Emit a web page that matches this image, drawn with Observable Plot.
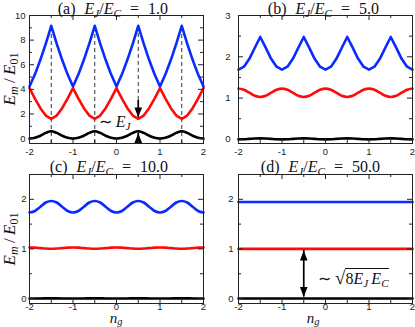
<!DOCTYPE html>
<html><head><meta charset="utf-8">
<script src="https://cdn.jsdelivr.net/npm/d3@7"></script>
<script src="https://cdn.jsdelivr.net/npm/@observablehq/plot@0.6"></script>
<style>
body{margin:0;background:#fff;}
#root{position:relative;width:415px;height:327px;overflow:hidden;font-family:'Liberation Serif','Times New Roman',serif;color:#111;}
sub{font-size:70%;vertical-align:baseline;position:relative;top:0.28em;line-height:0;}
.ngl sub{top:0.12em;}
.sp{display:inline-block;width:9px;}
.eq{margin:0 9px;}
.rad{font-size:118%;}
</style></head><body><div id="root"></div>
<script>
// ---- data ----
const ng = [-2,-1.875,-1.75,-1.625,-1.5,-1.375,-1.25,-1.125,-1,-0.875,-0.75,-0.625,-0.5,-0.375,-0.25,-0.125,0,0.125,0.25,0.375,0.5,0.625,0.75,0.875,1,1.125,1.25,1.375,1.5,1.625,1.75,1.875,2];
// (a) EJ/EC = 1.0
const a_m0 = [0,0.06,0.23,0.46,0.60,0.46,0.23,0.06, 0,0.06,0.23,0.46,0.60,0.46,0.23,0.06, 0,0.06,0.23,0.46,0.60,0.46,0.23,0.06, 0,0.06,0.23,0.46,0.60,0.46,0.23,0.06, 0];
const a_m1 = [4.10,3.25,2.47,1.87,1.60,1.87,2.47,3.25, 4.10,3.25,2.47,1.87,1.60,1.87,2.47,3.25, 4.10,3.25,2.47,1.87,1.60,1.87,2.47,3.25, 4.10,3.25,2.47,1.87,1.60,1.87,2.47,3.25, 4.10];
const a_m2 = [4.23,5.22,6.40,7.71,9.16,7.71,6.40,5.22, 4.23,5.22,6.40,7.71,9.16,7.71,6.40,5.22, 4.23,5.22,6.40,7.71,9.16,7.71,6.40,5.22, 4.23,5.22,6.40,7.71,9.16,7.71,6.40,5.22, 4.23];
// (b) EJ/EC = 5.0
const b_m0 = [0,0.004,0.012,0.02,0.024,0.02,0.012,0.004, 0,0.004,0.012,0.02,0.024,0.02,0.012,0.004, 0,0.004,0.012,0.02,0.024,0.02,0.012,0.004, 0,0.004,0.012,0.02,0.024,0.02,0.012,0.004, 0];
const b_m1 = [1.23,1.20,1.13,1.055,1.025,1.055,1.13,1.20, 1.23,1.20,1.13,1.055,1.025,1.055,1.13,1.20, 1.23,1.20,1.13,1.055,1.025,1.055,1.13,1.20, 1.23,1.20,1.13,1.055,1.025,1.055,1.13,1.20, 1.23];
const b_m2 = [1.69,1.76,1.95,2.22,2.48,2.22,1.95,1.76, 1.69,1.76,1.95,2.22,2.48,2.22,1.95,1.76, 1.69,1.76,1.95,2.22,2.48,2.22,1.95,1.76, 1.69,1.76,1.95,2.22,2.48,2.22,1.95,1.76, 1.69];
// (c) EJ/EC = 10.0
const c_m0 = [0,0.001,0.002,0.003,0.003,0.003,0.002,0.001, 0,0.001,0.002,0.003,0.003,0.003,0.002,0.001, 0,0.001,0.002,0.003,0.003,0.003,0.002,0.001, 0,0.001,0.002,0.003,0.003,0.003,0.002,0.001, 0];
const c_m1 = [1.03,1.026,1.017,1.008,1.004,1.008,1.017,1.026, 1.03,1.026,1.017,1.008,1.004,1.008,1.017,1.026, 1.03,1.026,1.017,1.008,1.004,1.008,1.017,1.026, 1.03,1.026,1.017,1.008,1.004,1.008,1.017,1.026, 1.03];
const c_m2 = [1.735,1.765,1.85,1.935,1.965,1.935,1.85,1.765, 1.735,1.765,1.85,1.935,1.965,1.935,1.85,1.765, 1.735,1.765,1.85,1.935,1.965,1.935,1.85,1.765, 1.735,1.765,1.85,1.935,1.965,1.935,1.85,1.765, 1.735];
// (d) EJ/EC = 50.0
const ngD = [-2, 2];
const d_m0 = [0, 0];
const d_m1 = [1.0, 1.0];
const d_m2 = [1.947, 1.947];

const panelTags = ["(a)", "(b)", "(c)", "(d)"];
const ratios = ["1.0", "5.0", "10.0", "50.0"];
const xMajor = [-2, -1, 0, 1, 2];
const xMinor = [-1.5, -0.5, 0.5, 1.5];
const yMajorA = [0, 2, 4, 6, 8, 10], yMinorA = [1, 3, 5, 7, 9];
const yMajorB = [0, 1, 2, 3], yMinorB = [0.5, 1.5, 2.5];
const yMajorCD = [0, 1, 2], yMinorCD = [0.5, 1.5];

// annotations
const dashA = [{x:-1.5,y1:-0.4,y2:9.16},{x:-0.5,y1:-0.4,y2:9.16},{x:0.5,y1:3.1,y2:9.16},{x:1.5,y1:-0.4,y2:9.16}];
const arrowsA = [{x:0.5,y1:3.1,y2:1.72,dir:"down"},{x:0.5,y1:-0.4,y2:0.46,dir:"up"}];
const arrowD = [{x:-0.5,y1:0.03,y2:0.97}];
const labelEJ = {x:-0.38, y:0.82};
const labelSqrt = {x:-0.16, y:0.32};

const BLUE = "#0a2bff", RED = "#ff0a0a", BLACK = "#000";
const root = document.getElementById("root");
const F = "'Liberation Serif','Times New Roman',serif";

const headDown = {draw(ctx){ ctx.moveTo(0,0); ctx.lineTo(-3.8,-10); ctx.lineTo(3.8,-10); ctx.closePath(); }};

function panel(o) {
  const iw = o.width - o.mL - o.mR, ih = o.height - o.mT - o.mB;
  const L = 5, S = 3;
  const tk = {stroke: "#222", strokeWidth: 1};
  const marks = [];
  (o.under || []).forEach(m => marks.push(m));
  o.series.forEach(s => marks.push(Plot.line(s.y.map((v, i) => ({x: s.x[i], y: v})), {x: "x", y: "y", stroke: s.color, strokeWidth: 2.6, curve: s.curve || "linear"})));
  (o.over || []).forEach(m => marks.push(m));
  marks.push(
    Plot.tickX(xMajor, {x: d => d, insetTop: ih - L, ...tk}),
    Plot.tickX(xMajor, {x: d => d, insetBottom: ih - L, ...tk}),
    Plot.tickX(xMinor, {x: d => d, insetTop: ih - S, ...tk}),
    Plot.tickX(xMinor, {x: d => d, insetBottom: ih - S, ...tk}),
    Plot.tickY(o.yMajor, {y: d => d, insetRight: iw - L, ...tk}),
    Plot.tickY(o.yMajor, {y: d => d, insetLeft: iw - L, ...tk}),
    Plot.tickY(o.yMinor, {y: d => d, insetRight: iw - S, ...tk}),
    Plot.tickY(o.yMinor, {y: d => d, insetLeft: iw - S, ...tk}),
    Plot.frame({stroke: "#222", strokeWidth: 1}),
    Plot.axisX({ticks: xMajor, tickSize: 0, tickPadding: o.xPad, tickFormat: d => String(d), label: null}),
    Plot.axisY({ticks: o.yMajor, tickSize: 0, tickPadding: o.yPad, tickFormat: d => String(d), label: null})
  );
  const p = Plot.plot({
    width: o.width, height: o.height,
    marginLeft: o.mL, marginRight: o.mR, marginTop: o.mT, marginBottom: o.mB,
    x: {domain: [-2, 2], label: null}, y: {domain: o.yDomain, label: null},
    style: {fontFamily: "'Liberation Sans',Arial,sans-serif", fontSize: "9.5px", color: "#222", background: "transparent"},
    marks
  });
  p.style.position = "absolute"; p.style.left = o.left + "px"; p.style.top = o.top + "px";
  root.appendChild(p);
  return p;
}

function html(content, x, baseline, fs, anchor, cls) {
  const d = document.createElement("div");
  d.innerHTML = content;
  if (cls) d.className = cls;
  d.style.cssText = `position:absolute;white-space:nowrap;font-family:${F};font-size:${fs}px;line-height:0.8;top:${baseline - 0.7375 * fs}px;`;
  if (anchor === "end") d.style.right = (415 - x) + "px";
  else if (anchor === "middle") { d.style.left = x + "px"; d.style.transform = "translateX(-50%)"; }
  else d.style.left = x + "px";
  root.appendChild(d);
  return d;
}
function vlabel(content, cx, cy, fs) {
  const d = document.createElement("div");
  d.innerHTML = content;
  d.style.cssText = `position:absolute;white-space:nowrap;font-family:${F};font-size:${fs}px;line-height:1;left:${cx}px;top:${cy}px;transform:translate(-50%,-50%) rotate(-90deg);`;
  root.appendChild(d);
}

const arrowMarks = (data) => [
  Plot.ruleX(data, {x: "x", y1: "y1", y2: "y2", stroke: BLACK, strokeWidth: 1.7}),
  Plot.dot(data.filter(d => d.dir !== "up"), {x: "x", y: "y2", symbol: headDown, fill: BLACK, stroke: "none"}),
  Plot.dot(data.filter(d => d.dir === "up"), {x: "x", y: "y2", symbol: headDown, rotate: 180, fill: BLACK, stroke: "none"})
];

const pA = panel({left: 0, top: 0, width: 207, height: 160, mL: 29, mR: 4, mT: 15, mB: 17, yPad: 4, xPad: 5,
  yDomain: [-0.4, 10], yMajor: yMajorA, yMinor: yMinorA,
  under: [Plot.ruleX(dashA, {x: "x", y1: "y1", y2: "y2", stroke: "#333", strokeWidth: 1, strokeDasharray: "4,3"})],
  series: [
    {x: ng, y: a_m0, color: BLACK, curve: "catmull-rom"},
    {x: ng, y: a_m1, color: RED},
    {x: ng, y: a_m2, color: BLUE}
  ],
  over: arrowMarks(arrowsA)
});
const pB = panel({left: 207, top: 0, width: 208, height: 160, mL: 31, mR: 3, mT: 15, mB: 17, yPad: 8, xPad: 5,
  yDomain: [-0.1, 3], yMajor: yMajorB, yMinor: yMinorB,
  series: [
    {x: ng, y: b_m0, color: BLACK, curve: "catmull-rom"},
    {x: ng, y: b_m1, color: RED, curve: "catmull-rom"},
    {x: ng, y: b_m2, color: BLUE}
  ]
});
const pC = panel({left: 0, top: 160, width: 207, height: 167, mL: 29, mR: 4, mT: 14, mB: 24, yPad: 3, xPad: 0,
  yDomain: [-0.1, 2.5], yMajor: yMajorCD, yMinor: yMinorCD,
  series: [
    {x: ng, y: c_m0, color: BLACK, curve: "catmull-rom"},
    {x: ng, y: c_m1, color: RED, curve: "catmull-rom"},
    {x: ng, y: c_m2, color: BLUE, curve: "catmull-rom"}
  ]
});
const pD = panel({left: 207, top: 160, width: 208, height: 167, mL: 31, mR: 3, mT: 14, mB: 24, yPad: 5, xPad: 0,
  yDomain: [-0.1, 2.5], yMajor: yMajorCD, yMinor: yMinorCD,
  series: [
    {x: ngD, y: d_m0, color: BLACK},
    {x: ngD, y: d_m1, color: RED},
    {x: ngD, y: d_m2, color: BLUE}
  ],
  over: [
    Plot.ruleX(arrowD, {x: "x", y1: "y1", y2: "y2", stroke: BLACK, strokeWidth: 1.7}),
    Plot.dot(arrowD, {x: "x", y: "y1", symbol: headDown, fill: BLACK, stroke: "none"}),
    Plot.dot(arrowD, {x: "x", y: "y2", symbol: headDown, rotate: 180, fill: BLACK, stroke: "none"})
  ]
});

// titles
const titleHTML = i => `${panelTags[i]}<span class="sp"></span><i>E</i><sub><i>J</i></sub>/<i>E</i><sub><i>C</i></sub><span class="eq">=</span>${ratios[i]}`;
html(titleHTML(0), 168, 14.5, 16, "end");
html(titleHTML(1), 379, 14.5, 16, "end");
html(titleHTML(2), 168, 172.5, 16, "end");
html(titleHTML(3), 380, 172.5, 16, "end");

// y labels
const yLab = `<i>E</i><sub><i>m</i></sub>&thinsp;/&thinsp;<i>E</i><sub>01</sub>`;
vlabel(yLab, 9, 79, 17);
vlabel(yLab, 9, 238.5, 17);

// x labels
const xLab = `<i>n</i><sub><i>g</i></sub>`;
html(xLab, 0 + pC.scale("x").apply(0), 323.5, 15, "middle", "ngl");
html(xLab, 207 + pD.scale("x").apply(0) - 12, 323.5, 15, "middle", "ngl");

// annotations
html(`∼&thinsp;<i>E</i><sub><i>J</i></sub>`, pA.scale("x").apply(labelEJ.x), pA.scale("y").apply(labelEJ.y), 16, "start");
html(`∼&nbsp;<span class="rad">√</span><span style="border-top:1px solid #111;padding-top:1px;">8<i>E</i><sub><i>J</i></sub>&thinsp;<i>E</i><sub><i>C</i></sub></span>`,
  207 + pD.scale("x").apply(labelSqrt.x), 160 + pD.scale("y").apply(labelSqrt.y), 16, "start");
</script>
</body></html>
